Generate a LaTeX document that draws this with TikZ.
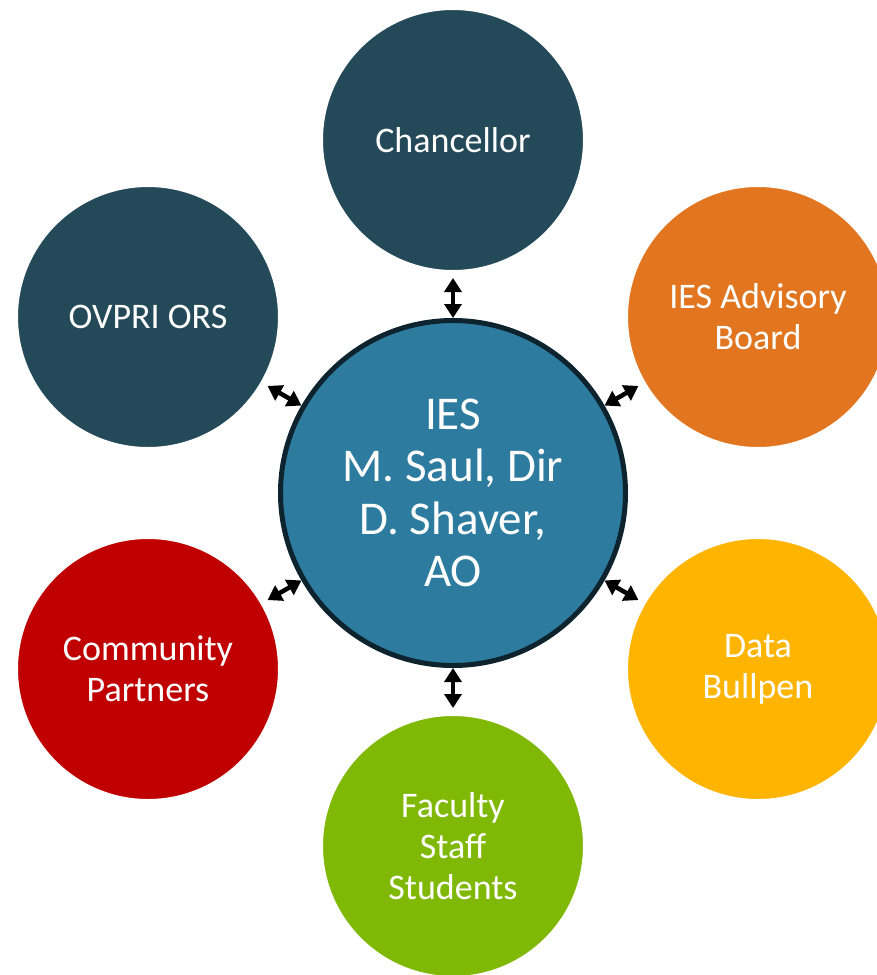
\documentclass[tikz,border=0pt]{standalone}
\usepackage{fontspec}
\setmainfont{Carlito}
\usetikzlibrary{arrows.meta}
\definecolor{darkteal}{HTML}{244A59}
\definecolor{iesorange}{HTML}{E27620}
\definecolor{iesred}{HTML}{C00000}
\definecolor{iesgold}{HTML}{FFB400}
\definecolor{iesgreen}{HTML}{80B806}
\definecolor{iesblue}{HTML}{2D7CA0}
\definecolor{iesborder}{HTML}{0D242E}
\tikzset{
  outerball/.style={circle, minimum size=263pt, inner sep=0pt, draw=white, line width=3pt,
    text=white, align=center, font=\fontsize{36}{41}\selectfont},
  centerball/.style={circle, minimum size=345pt, inner sep=0pt, draw=iesborder, fill=iesblue,
    line width=5pt, text=white, align=center, font=\fontsize{47}{52.5}\selectfont},
  biarrow/.style={line width=4.5pt, black,
    {Triangle[width=17pt,length=14pt]}-{Triangle[width=17pt,length=14pt]}, shorten >=5pt}
}
\begin{document}
\begin{tikzpicture}[x=1pt,y=-1pt]
\useasboundingbox (0,0) rectangle (877,975);
\clip (0,0) rectangle (877,975);
\fill[white] (0,0) rectangle (877,975);
\node[centerball] (ies) at (453,493) {IES\\M. Saul, Dir\\D. Shaver,\\AO};
\node[outerball, fill=darkteal] (ch) at (453,140) {Chancellor};
\node[outerball, fill=darkteal] (ovpri) at (148,317) {OVPRI ORS};
\node[outerball, fill=iesorange] (adv) at (758,317) {IES Advisory\\Board};
\node[outerball, fill=iesred] (com) at (148,669) {Community\\Partners};
\node[outerball, fill=iesgold] (data) at (758,669) {Data\\Bullpen};
\node[outerball, fill=iesgreen] (fac) at (453,846) {Faculty\\Staff\\Students};
\draw[biarrow] (ies) -- (ch);
\draw[biarrow] (ies) -- (ovpri);
\draw[biarrow] (ies) -- (adv);
\draw[biarrow] (ies) -- (com);
\draw[biarrow] (ies) -- (data);
\draw[biarrow] (ies) -- (fac);
\end{tikzpicture}
\end{document}
